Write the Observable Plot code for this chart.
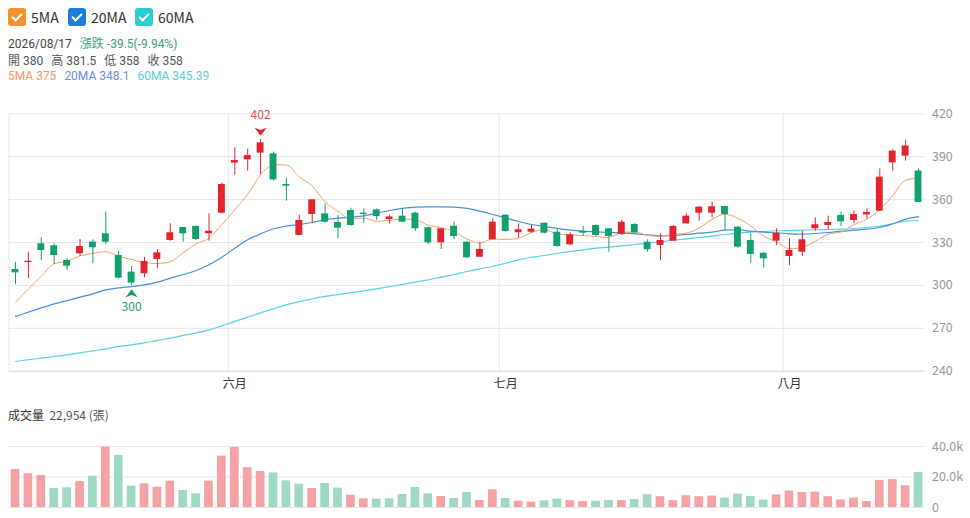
<!DOCTYPE html>
<html><head><meta charset="utf-8">
<script src="https://cdn.jsdelivr.net/npm/d3@7"></script>
<script src="https://cdn.jsdelivr.net/npm/@observablehq/plot@0.6"></script>
<style>
body{margin:0;background:#fff;font-family:"Noto Sans CJK TC","Noto Sans",sans-serif;}
#wrap{position:relative;width:970px;height:518px;overflow:hidden;}
#header{position:relative;height:95px;}
.lg{position:absolute;top:8px;height:18px;display:flex;align-items:center;font-size:14px;color:#333;}
.box{width:18px;height:18px;border-radius:3px;position:relative;margin-right:5px;}
.box::after{content:"";position:absolute;left:6px;top:3px;width:4px;height:8px;border-right:2px solid #fff;border-bottom:2px solid #fff;transform:rotate(45deg);}
.info{position:absolute;left:8px;font-family:Roboto,"Noto Sans CJK TC",sans-serif;font-size:12px;line-height:14px;height:14px;white-space:nowrap;color:#555;}
.info span{margin-right:8px;}
#volTitle{position:relative;height:40px;}
#volTitle div{position:absolute;left:8px;top:7px;font-size:12px;line-height:16px;color:#555;white-space:nowrap;}
svg{overflow:visible;display:block;}
</style></head><body>
<div id="wrap">
  <div id="header">
    <div class="lg" style="left:8px"><div class="box" style="background:#f5922f"></div>5MA</div>
    <div class="lg" style="left:68px"><div class="box" style="background:#1c7ed6"></div>20MA</div>
    <div class="lg" style="left:135px"><div class="box" style="background:#2bcfcf"></div>60MA</div>
    <div class="info" style="top:37.2px"><span style="color:#444">2026/08/17</span><span style="color:#3fa27a">漲跌 -39.5(-9.94%)</span></div>
    <div class="info" style="top:53.9px"><span>開 380</span><span>高 381.5</span><span>低 358</span><span>收 358</span></div>
    <div class="info" style="top:68.9px"><span style="color:#f49a6c">5MA 375</span><span style="color:#6b8ee8">20MA 348.1</span><span style="color:#5ccfd0">60MA 345.39</span></div>
  </div>
  <div id="price"></div>
  <div id="volTitle"><div><span style="color:#333">成交量</span>&nbsp;&nbsp;22,954 (張)</div></div>
  <div id="vol"></div>
</div>
<script>
const dates = [
"2026/05/07","2026/05/08","2026/05/11","2026/05/12","2026/05/13","2026/05/14","2026/05/15","2026/05/18","2026/05/19","2026/05/20",
"2026/05/21","2026/05/22","2026/05/25","2026/05/26","2026/05/27","2026/05/28","2026/05/29",
"2026/06/01","2026/06/02","2026/06/03","2026/06/04","2026/06/05","2026/06/08","2026/06/09","2026/06/10","2026/06/11","2026/06/12",
"2026/06/15","2026/06/16","2026/06/17","2026/06/18","2026/06/22","2026/06/23","2026/06/24","2026/06/25","2026/06/26","2026/06/29","2026/06/30",
"2026/07/01","2026/07/02","2026/07/03","2026/07/06","2026/07/07","2026/07/08","2026/07/09","2026/07/10","2026/07/13","2026/07/14",
"2026/07/15","2026/07/16","2026/07/17","2026/07/20","2026/07/21","2026/07/22","2026/07/23","2026/07/24","2026/07/27","2026/07/28",
"2026/07/30","2026/07/31",
"2026/08/03","2026/08/04","2026/08/05","2026/08/06","2026/08/07","2026/08/10","2026/08/11","2026/08/12","2026/08/13","2026/08/14","2026/08/17"];
const opens = [311.1,316.0,329.1,327.7,317.4,322.1,330.2,336.1,320.9,309.3,308.1,318.1,331.4,340.5,341.2,336.1,350.5,385.5,387.8,392.5,
392.0,370.6,334.9,349.6,350.0,344.0,352.4,350.5,352.8,346.1,348.4,350.5,340.3,329.8,341.4,330.2,319.7,331.9,349.1,336.8,
337.2,343.5,337.2,328.4,337.7,341.9,339.6,335.6,342.6,330.2,327.9,330.9,343.0,350.5,350.5,355.2,340.7,331.4,322.5,331.0,
320.2,323.2,339.6,341.9,348.9,345.4,349.3,351.9,385.7,390.4,380];
const highs = [316.2,323.2,333.3,329.1,318.6,332.1,331.9,351.2,323.9,313.2,319.7,325.1,343.1,340.5,341.7,350.0,371.5,396.2,395.3,402.0,
393.2,375.2,349.0,360.0,357.0,348.9,354.0,353.5,353.5,349.3,353.5,351.2,340.7,339.6,344.2,330.7,330.2,346.5,349.1,343.1,
342.4,343.5,339.6,336.8,341.4,342.4,339.6,345.4,343.1,331.9,336.1,341.9,350.0,355.2,358.2,355.2,341.2,336.1,323.2,339.6,
332.6,337.7,347.2,348.4,351.2,351.9,353.5,381.5,394.8,401.5,381.5];
const lows = [300.6,304.6,317.4,314.6,310.4,320.2,315.1,328.4,304.6,300.0,305.3,311.6,330.9,330.2,331.4,330.9,350.0,376.9,379.9,377.6,
372.9,358.9,334.9,343.1,343.5,332.6,341.4,343.5,345.4,343.1,343.8,337.9,328.6,325.1,332.1,318.8,319.7,331.9,337.2,333.0,
336.5,336.1,326.7,327.9,334.2,334.2,323.2,334.9,336.1,323.2,317.4,330.9,343.0,344.9,347.2,338.4,326.0,315.5,312.1,327.9,
313.9,320.2,337.9,339.1,341.2,343.1,346.5,351.9,379.9,386.9,358];
const closes = [308.8,316.9,324.4,320.9,313.4,327.2,326.3,330.2,305.1,301.6,316.7,322.8,336.8,336.1,332.1,337.9,370.6,387.3,390.8,399.7,
373.8,369.4,345.4,359.8,344.2,340.0,341.9,349.6,348.2,347.9,344.2,339.6,329.8,339.6,334.2,319.3,325.1,344.2,337.7,338.9,
339.3,336.5,327.2,335.4,336.5,334.9,334.2,344.2,336.8,324.9,331.4,341.2,348.4,354.7,355.0,349.6,326.7,321.6,318.6,336.5,
324.4,331.9,342.4,344.0,344.5,349.6,351.0,375.7,393.9,397.5,358];
const ma5 = [288.3,297.6,306.5,315.1,316.9,320.6,322.4,323.6,320.4,318.1,316.0,315.3,316.6,322.8,328.9,333.1,342.7,352.8,363.7,377.3,
384.4,384.2,375.8,369.6,358.5,351.8,346.3,347.1,344.8,345.5,346.3,345.9,342.0,340.3,337.5,332.5,329.6,332.5,332.1,333.0,
337.0,339.2,335.8,335.4,334.9,334.1,333.6,337.0,337.3,335.0,334.3,335.7,336.5,340.1,346.2,349.8,346.9,341.6,334.3,330.6,
325.6,326.6,330.8,335.8,337.4,342.5,346.3,353.0,362.8,373.5,375.0];
const ma20 = [278.3,281.3,284.3,287.1,289.4,291.8,294.1,296.9,298.3,299.2,300.4,302.3,305.1,307.6,310.4,314.4,319.7,326.0,331.9,336.1,
339.6,341.4,342.6,344.0,345.9,347.0,347.7,348.6,350.5,352.4,353.8,354.7,354.9,354.9,354.7,353.8,351.9,349.6,347.2,344.7,
342.6,341.2,339.8,338.6,337.9,337.5,337.0,336.8,336.1,335.4,334.7,334.9,335.6,336.5,337.2,338.6,338.9,337.9,337.2,336.8,
336.1,335.8,336.3,337.0,337.9,338.6,339.3,340.5,343.1,346.3,348.1];
const ma60 = [246.8,248.0,249.1,250.3,251.4,252.8,254.2,255.6,257.3,258.4,259.8,261.5,263.1,265.0,266.8,268.9,271.7,274.8,277.8,280.8,
283.6,286.4,288.6,290.6,292.3,293.6,294.9,296.2,297.6,299.1,300.6,302.3,303.9,305.8,307.6,309.7,311.6,313.4,315.5,317.9,
319.7,320.9,322.5,323.7,324.9,326.0,326.7,327.7,328.6,329.5,330.5,331.6,332.6,333.5,334.4,335.6,336.5,337.2,337.7,338.2,
338.4,338.6,338.9,339.1,339.3,339.8,340.5,341.4,343.1,344.9,345.39];
const volumes = [24900,22100,21000,12500,12900,17000,20500,39600,34100,14000,15500,13300,17300,11100,9000,17300,33700,39300,26000,23600,
22700,17500,15300,12500,15700,12700,8100,5700,5500,5700,8500,13100,9000,7200,5900,9800,4600,11600,5900,4200,
3500,4400,5500,4500,3900,4100,4500,4500,5200,8400,7100,4500,7700,7100,7500,6200,8800,7300,4900,8200,
10800,9900,10100,7100,4900,6200,3900,17800,18300,14200,22954];
const volUp = [1,1,1,0,0,1,0,1,0,0,1,1,1,0,0,1,1,1,1,1,
0,0,0,1,0,0,1,1,0,0,0,0,0,1,0,0,1,1,0,1,
1,0,0,1,1,0,0,1,0,0,1,1,1,1,1,0,0,0,0,1,
1,1,1,1,1,1,1,1,1,1,0];
const priceTicks = [240,270,300,330,360,390,420];
const volTicks = [0,20000,40000];
const monthDates = ["2026/06/01","2026/07/01","2026/08/03"];
const monthLabels = ["六月","七月","八月"];
const maxLabel = "402", minLabel = "300";

const RED = "#e5232f", GREEN = "#13a06f", PINK = "#f4a2a6", MINT = "#9fd9c3";
const GRID = "#e4e7ee";
const data = dates.map((d,i)=>({date:d, open:opens[i], high:highs[i], low:lows[i], close:closes[i],
  ma5:ma5[i], ma20:ma20[i], ma60:ma60[i], vol:volumes[i], up:volUp[i]}));
const monthTicks = monthDates.map((d,i)=>({date:d, label:monthLabels[i]}));
const W = 970, ML = 8.55, MR = 45.55;
const bw = (W-ML-MR)/dates.length;
const edgeLines = [dates[0], ...monthDates];
const font = '"Noto Sans CJK TC","Noto Sans",sans-serif';

let iMax = 0, iMin = 0;
data.forEach((d,i)=>{ if(d.high>data[iMax].high) iMax=i; if(d.low<data[iMin].low) iMin=i; });
const maxPt = [data[iMax]], minPt = [data[iMin]];

const arrowDown = {draw(ctx,size){const r=Math.sqrt(size/Math.PI);
  ctx.moveTo(-1.2*r,-0.8*r);ctx.lineTo(0,-0.35*r);ctx.lineTo(1.2*r,-0.8*r);ctx.lineTo(0,0.8*r);ctx.closePath();}};
const arrowUp = {draw(ctx,size){const r=Math.sqrt(size/Math.PI);
  ctx.moveTo(-1.2*r,0.8*r);ctx.lineTo(0,0.35*r);ctx.lineTo(1.2*r,0.8*r);ctx.lineTo(0,-0.8*r);ctx.closePath();}};

const candleColor = d => d.close >= d.open ? RED : GREEN;

const price = Plot.plot({
  width: W, height: 305, marginTop: 18.3, marginBottom: 29.3, marginLeft: ML, marginRight: MR,
  x: {type:"band", domain: dates, padding: 0, axis: null},
  y: {domain:[240,420], axis: null},
  style: {fontFamily: font, fontSize: "12px", background: "transparent", overflow: "visible"},
  marks: [
    Plot.gridY(priceTicks, {stroke: GRID, strokeOpacity: 1}),
    Plot.ruleY([240], {stroke: "#dadde5"}),
    Plot.ruleX(edgeLines, {x: d=>d, dx: -bw/2, stroke: GRID, strokeOpacity: 1}),
    Plot.axisY(priceTicks, {anchor:"right", tickSize:0, tickPadding:7, fill:"#9a9a9a", fontSize:12.5, label:null}),
    Plot.text(monthTicks, {x:"date", text:"label", frameAnchor:"bottom", dy:12.5, lineAnchor:"middle", fill:"#333", fontSize:12}),
    Plot.line(data, {x:"date", y:"ma60", stroke:"#55d6d8", strokeWidth:1.2, curve:"monotone-x"}),
    Plot.line(data, {x:"date", y:"ma20", stroke:"#4a8fe2", strokeWidth:1.2, curve:"monotone-x"}),
    Plot.line(data, {x:"date", y:"ma5", stroke:"#f6a263", strokeWidth:1, curve:"monotone-x"}),
    Plot.ruleX(data, {x:"date", y1:"low", y2:"high", stroke: candleColor, strokeWidth:1}),
    Plot.barY(data, {x:"date", y1:"open", y2:"close", fill: candleColor, insetLeft: 3, insetRight: 3}),
    Plot.dot(maxPt, {x:"date", y:"high", symbol: arrowDown, r:5, fill: RED, stroke:"none", dy:-7.8}),
    Plot.text(maxPt, {x:"date", y:"high", text: ()=>maxLabel, dy:-24.3, fill:"#e8474c", fontSize:12}),
    Plot.dot(minPt, {x:"date", y:"low", symbol: arrowUp, r:5, fill: GREEN, stroke:"none", dy:7.8}),
    Plot.text(minPt, {x:"date", y:"low", text: ()=>minLabel, dy:21.7, fill:"#1f9c6e", fontSize:12})
  ]
});
document.getElementById("price").appendChild(price);

const vol = Plot.plot({
  width: W, height: 78, marginTop: 6, marginBottom: 11, marginLeft: ML, marginRight: MR,
  x: {type:"band", domain: dates, padding: 0, axis: null},
  y: {domain:[0,40000], axis: null},
  style: {fontFamily: font, fontSize: "12px", background: "transparent", overflow: "visible"},
  marks: [
    Plot.gridY(volTicks, {stroke: GRID, strokeOpacity: 1}),
    Plot.axisY(volTicks, {anchor:"right", tickSize:0, tickPadding:7, fill:"#9a9a9a", fontSize:12.5, label:null,
      tickFormat: d => d === 0 ? "0" : (d/1000).toFixed(1) + "k"}),
    Plot.barY(data, {x:"date", y:"vol", fill: d => d.up ? PINK : MINT, insetLeft: 2.1, insetRight: 2.1})
  ]
});
document.getElementById("vol").appendChild(vol);
</script>
</body></html>
